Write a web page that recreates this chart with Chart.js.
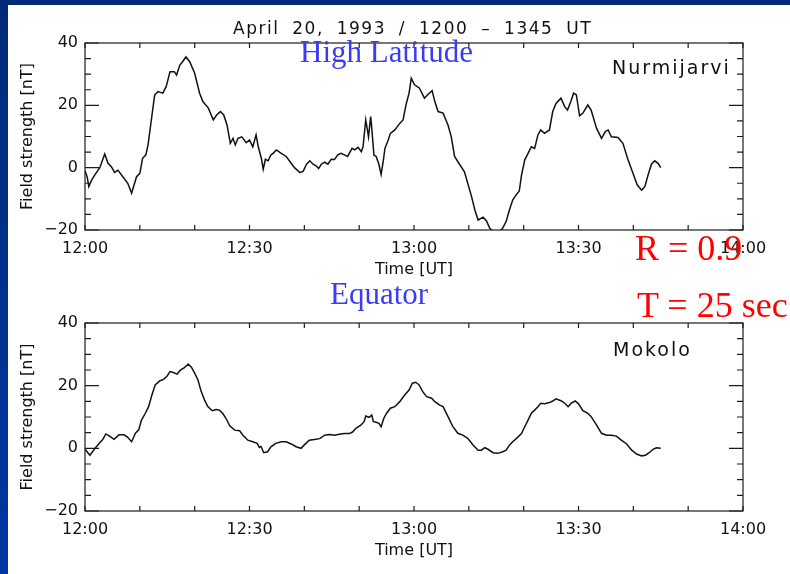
<!DOCTYPE html>
<html>
<head>
<meta charset="utf-8">
<script src="https://cdn.jsdelivr.net/npm/chart.js@4.4.1/dist/chart.umd.min.js"></script>
<style>
  html, body { margin: 0; padding: 0; }
  body {
    width: 790px; height: 574px; position: relative; overflow: hidden;
    background: linear-gradient(#002a78, #0037a2);
  }
  #panel { position: absolute; left: 8px; top: 5px; right: 0; bottom: 0; background: #fff; }
  canvas { position: absolute; left: 0; }
  .t { position: absolute; white-space: nowrap; line-height: 1; }
  .idl { font-family: "DejaVu Sans", sans-serif; color: #111; }
  .serif { font-family: "Liberation Serif", "Times New Roman", serif; }
</style>
</head>
<body>
<div id="panel"></div>
<canvas id="nurm" width="790" height="290" style="top:0"></canvas>
<canvas id="moko" width="790" height="294" style="top:280px"></canvas>

<div class="t idl" style="left:233px;top:19.6px;font-size:17px;letter-spacing:1.5px;word-spacing:6px">April 20, 1993 / 1200 – 1345 UT</div>
<div class="t serif" style="left:300px;top:36px;font-size:31px;color:#3b3bf6">High Latitude</div>
<div class="t idl" style="left:612px;top:58px;font-size:19px;letter-spacing:2px">Nurmijarvi</div>
<div class="t serif" style="left:635px;top:230px;font-size:36px;color:#ff0000">R = 0.9</div>
<div class="t serif" style="left:330px;top:278px;font-size:31px;color:#3b3bf6">Equator</div>
<div class="t serif" style="left:637px;top:287px;font-size:36px;color:#ff0000">T = 25 sec</div>
<div class="t idl" style="left:613px;top:340px;font-size:19px;letter-spacing:2px">Mokolo</div>

<script>
// Minutes after 12:00 UT and horizontal field strength (nT), Nurmijarvi
const nurmMinutes = [
  0, 0.4, 0.7, 1.2, 1.8, 2.7, 3.6, 4.2, 4.8, 5.4, 6.0, 6.9, 7.8, 8.5, 9.4, 10.0, 10.5, 11.1, 11.5, 12.1,
  12.7, 13.3, 14.2, 14.8, 15.5, 16.3, 16.7, 17.3, 17.8, 18.4, 19.1, 20.0, 20.9, 21.5, 22.5, 23.4, 24.0, 24.7, 25.3, 25.9,
  26.5, 27.0, 27.4, 27.9, 28.6, 29.4, 30.0, 30.6, 31.2, 31.6, 32.2, 32.5, 32.9, 33.4, 33.9, 34.3, 34.9, 35.8, 36.7, 37.6,
  38.2, 39.2, 39.8, 40.4, 41.0, 41.6, 42.2, 42.6, 43.1, 43.7, 44.3, 44.9, 45.5, 46.1, 46.7, 47.3, 47.9, 48.7, 49.2, 49.8,
  50.4, 50.7, 51.2, 51.5, 51.7, 52.1, 52.3, 52.7, 53.1, 53.6, 54.0, 54.4, 54.7, 55.3, 55.7, 56.5, 57.4, 58.0, 58.6, 59.1,
  59.5, 60.1, 61.0, 61.9, 62.5, 63.3, 63.8, 64.4, 65.3, 66.2, 66.8, 67.4, 68.3, 69.2, 69.8, 70.5, 71.1, 71.7, 72.6, 73.2,
  73.8, 74.6, 75.4, 76.1, 76.8, 77.4, 78.0, 78.6, 79.2, 79.6, 80.2, 80.8, 81.4, 82.0, 82.6, 83.1, 83.8, 84.7, 85.3, 85.9,
  86.8, 87.5, 88.0, 88.6, 89.1, 89.6, 90.2, 90.8, 91.7, 92.3, 93.3, 94.2, 94.9, 95.4, 96.0, 97.2, 98.1, 99.0, 99.9, 100.7,
  101.5, 102.1, 102.7, 103.3, 103.9, 104.5, 105.0
];
const nurmField = [
  -1, -3, -6.1, -4, -2.3, 0, 4.4, 1.4, 0.3, -1.5, -0.8, -2.9, -5.0, -8.2, -2.9, -1.8, 3.0, 4.1, 7.3, 15.3,
  23.3, 24.4, 23.9, 26.0, 30.8, 30.8, 29.7, 32.9, 34.0, 35.6, 34.0, 30.3, 23.9, 21.2, 19.1, 15.3, 16.9, 18.0, 16.9, 13.7,
  7.8, 9.4, 7.3, 9.4, 9.9, 8.0, 8.9, 6.7, 10.5, 6.7, 2.7, -0.5, 2.7, 2.2, 4.1, 4.6, 5.7, 4.6, 3.6, 1.4,
  0, -1.6, -1.1, 1.1, 2.2, 1.1, 0.5, -0.3, 1.1, 1.8, 1.1, 2.7, 2.6, 4.1, 4.6, 4.1, 3.6, 6.2, 5.7, 6.5,
  5.1, 6.7, 15.3, 12.1, 9.9, 16.4, 12.6, 4.0, 3.6, 1.1, -2.2, 2.2, 6.2, 8.9, 11.0, 12.1, 14.2, 15.3, 20.6, 23.9,
  28.7, 26.6, 25.5, 22.3, 23.4, 24.7, 21.2, 18.0, 17.5, 13.7, 9.9, 3.6, 1.1, -1.3, -5.0, -9.3, -13.6, -16.8, -15.9, -17.0,
  -19.4, -20.8, -20.9, -19.6, -17.3, -13.6, -10.4, -8.8, -7.5, -2.5, 2.5, 4.6, 6.7, 6.2, 10.5, 12.1, 11.0, 12.1, 18.0, 20.6,
  22.3, 19.5, 18.5, 21.2, 23.9, 23.4, 16.6, 17.5, 20.1, 18.5, 12.6, 9.4, 11.6, 12.1, 9.9, 9.7, 7.8, 2.7, -1.6, -5.5,
  -7.2, -6.1, -2.3, 1.1, 2.2, 1.4, 0
];

// Minutes after 12:00 UT and horizontal field strength (nT), Mokolo
const mokoMinutes = [
  0, 0.9, 1.7, 2.6, 3.2, 3.8, 4.4, 5.3, 6.2, 7.1, 7.7, 8.5, 9.2, 9.8, 10.3, 11.0, 11.6, 12.2, 12.8, 13.6,
  14.3, 14.9, 15.5, 16.1, 16.8, 17.4, 18.2, 18.8, 19.4, 20.0, 20.6, 21.2, 21.8, 22.4, 23.2, 23.9, 24.5, 25.1, 25.7, 26.4,
  27.3, 28.2, 28.8, 29.7, 30.6, 31.4, 31.8, 32.1, 32.6, 33.3, 33.9, 34.8, 35.8, 36.7, 37.6, 38.5, 39.4, 40.0, 40.9, 41.8,
  42.8, 43.7, 44.6, 45.5, 46.4, 47.3, 48.2, 48.8, 49.4, 50.3, 50.9, 51.2, 51.8, 52.3, 52.6, 53.1, 53.6, 54.0, 54.5, 55.0,
  55.7, 56.5, 57.4, 58.3, 59.1, 59.7, 60.3, 60.9, 61.6, 62.3, 63.2, 63.8, 64.7, 65.3, 66.2, 67.1, 68.0, 68.9, 69.8, 70.8,
  71.7, 72.3, 72.9, 73.5, 74.4, 75.3, 76.2, 76.8, 77.4, 78.0, 78.9, 79.6, 80.2, 80.8, 81.4, 82.0, 82.6, 83.1, 83.8, 84.7,
  85.3, 85.9, 86.8, 87.5, 88.1, 88.7, 89.4, 90.0, 90.8, 91.7, 92.3, 93.3, 94.2, 95.1, 96.0, 96.9, 97.8, 98.8, 99.7, 100.6,
  101.5, 102.2, 102.9, 103.6, 104.2, 105.0
];
const mokoField = [
  -0.3, -2.2, -0.3, 1.6, 2.7, 4.6, 4.0, 2.9, 4.3, 4.3, 3.7, 2.1, 4.8, 5.9, 9.0, 11.2, 13.3, 17.0, 20.2, 21.5,
  22.0, 22.9, 24.5, 24.2, 23.7, 25.0, 25.8, 26.9, 25.9, 24.0, 21.8, 18.1, 15.4, 13.3, 12.0, 12.4, 12.2, 11.2, 9.6, 7.2,
  5.8, 5.6, 4.2, 2.6, 2.1, 1.6, 0.3, 0.6, -1.4, -1.1, 0.5, 1.6, 2.1, 2.1, 1.4, 0.5, 0, 1.1, 2.6, 2.8,
  3.1, 4.2, 4.4, 4.2, 4.5, 4.7, 4.7, 5.2, 6.4, 7.4, 8.5, 10.3, 9.9, 10.6, 8.5, 8.3, 8.0, 6.9, 9.6, 11.2,
  12.8, 13.3, 14.9, 17.0, 18.6, 20.8, 21.1, 20.3, 18.1, 16.5, 16.0, 14.9, 13.8, 13.3, 10.1, 6.9, 4.8, 4.2, 3.2, 1.0,
  -0.6, -0.6, 0.2, -0.3, -1.4, -1.6, -1.1, -0.6, 1.0, 2.1, 3.5, 4.7, 6.9, 9.0, 11.2, 12.2, 13.3, 14.4, 14.2, 14.6,
  15.1, 15.8, 15.2, 14.4, 13.3, 14.4, 15.1, 14.2, 12.0, 11.2, 10.1, 7.4, 4.8, 4.2, 4.2, 3.9, 2.6, 1.4, -0.6, -1.8,
  -2.4, -2.2, -1.4, -0.3, 0.2, 0
];

// Axis ranges and labelled ticks
const timeRange = [0, 120];          // minutes after 12:00
const timeMajorMinutes = [0, 30, 60, 90, 120];
const timeMajorLabels = ['12:00', '12:30', '13:00', '13:30', '14:00'];
const fieldRange = [-20, 40];
const fieldMajorValues = [-20, 0, 20, 40];
const fieldMajorLabels = ['\u221220', '0', '20', '40'];

const FONT = '"DejaVu Sans", sans-serif';

// Inward tick marks on all four sides plus the plot frame
const frameTicks = {
  id: 'frameTicks',
  afterDatasetsDraw(chart) {
    const { ctx, chartArea: a, scales: { x, y } } = chart;
    ctx.save();
    ctx.strokeStyle = '#1c1c1c';
    ctx.lineWidth = 1.2;
    ctx.strokeRect(a.left, a.top, a.right - a.left, a.bottom - a.top);
    ctx.beginPath();
    x.ticks.forEach(t => {
      const px = x.getPixelForValue(t.value);
      ctx.moveTo(px, a.bottom); ctx.lineTo(px, a.bottom - 5);
      ctx.moveTo(px, a.top); ctx.lineTo(px, a.top + 5);
    });
    y.ticks.forEach(t => {
      const py = y.getPixelForValue(t.value);
      const len = fieldMajorValues.includes(t.value) ? 14 : 6;
      ctx.moveTo(a.left, py); ctx.lineTo(a.left + len, py);
      ctx.moveTo(a.right, py); ctx.lineTo(a.right - len, py);
    });
    ctx.stroke();
    ctx.restore();
  }
};

function makeChart(id, minutes, field, xAxisHeight, titleBottom) {
  const points = minutes.map((m, i) => ({ x: m, y: field[i] }));
  return new Chart(document.getElementById(id), {
    type: 'line',
    data: {
      datasets: [{
        data: points,
        borderColor: '#111',
        borderWidth: 1.5,
        pointRadius: 0,
        tension: 0,
        fill: false
      }]
    },
    options: {
      responsive: false,
      animation: false,
      events: [],
      layout: { padding: { left: 0, top: 43, right: 47, bottom: 0 } },
      plugins: { legend: { display: false }, tooltip: { enabled: false } },
      scales: {
        x: {
          type: 'linear',
          min: timeRange[0], max: timeRange[1],
          grid: { display: false, drawTicks: false },
          border: { display: false },
          ticks: {
            stepSize: 10, autoSkip: false, maxRotation: 0, padding: 9,
            color: '#111', font: { family: FONT, size: 16 },
            callback: v => {
              const k = timeMajorMinutes.indexOf(v);
              return k >= 0 ? timeMajorLabels[k] : '';
            }
          },
          title: {
            display: true, text: 'Time [UT]', color: '#111',
            font: { family: FONT, size: 16 },
            padding: { top: 0, bottom: titleBottom }
          },
          afterFit: s => { s.height = xAxisHeight; s.paddingLeft = 0; s.paddingRight = 0; }
        },
        y: {
          type: 'linear',
          min: fieldRange[0], max: fieldRange[1],
          grid: { display: false, drawTicks: false },
          border: { display: false },
          ticks: {
            stepSize: 5, autoSkip: false, padding: 7,
            color: '#111', font: { family: FONT, size: 16 },
            callback: v => {
              const k = fieldMajorValues.indexOf(v);
              return k >= 0 ? fieldMajorLabels[k] : '';
            }
          },
          title: {
            display: true, text: 'Field strength [nT]', color: '#111',
            font: { family: FONT, size: 16 },
            padding: { top: 18, bottom: 0 }
          },
          afterFit: s => { s.width = 85; s.paddingTop = 0; s.paddingBottom = 0; }
        }
      }
    },
    plugins: [frameTicks]
  });
}

makeChart('nurm', nurmMinutes, nurmField, 60, 11);
makeChart('moko', mokoMinutes, mokoField, 63, 14);
</script>
</body>
</html>
